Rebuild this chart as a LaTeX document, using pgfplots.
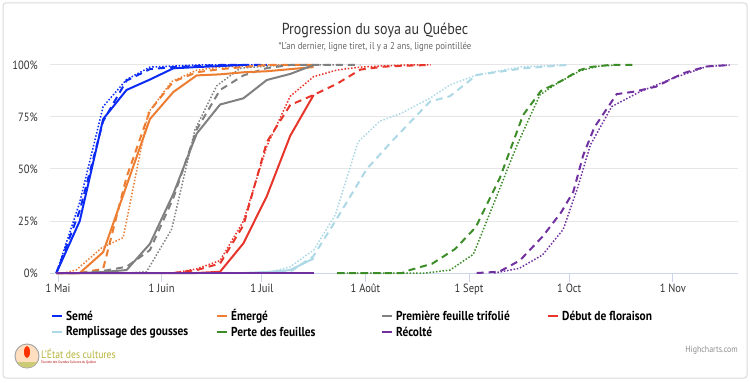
\documentclass[border=0pt]{standalone}
\usepackage{fontspec}
\setmainfont{PT Sans}[FakeStretch=0.88]
\usepackage{pgfplots}
\pgfplotsset{compat=1.18}
\definecolor{cSeme}{HTML}{0B2BF5}
\definecolor{cEmer}{HTML}{ED7D31}
\definecolor{cPrem}{HTML}{808080}
\definecolor{cDebut}{HTML}{E8352B}
\definecolor{cRemp}{HTML}{ADD8E6}
\definecolor{cPerte}{HTML}{3C8C28}
\definecolor{cRecol}{HTML}{7030A0}
\definecolor{cAxis}{HTML}{CCD6EB}
\definecolor{cGrid}{HTML}{E6E6E6}
\definecolor{cText}{HTML}{333333}
\definecolor{cSub}{HTML}{666666}
\definecolor{cLogo}{HTML}{B5B33A}
\tikzset{
  sol/.style={line width=2bp},
  das/.style={line width=2bp, dash pattern=on 7bp off 5bp},
  dot/.style={line width=1.5bp, dash pattern=on 1.5bp off 1.8bp},
}
\begin{document}
\begin{tikzpicture}[x=1bp,y=1bp]
\path[use as bounding box] (0,0) rectangle (750,382);
\draw[draw=black!15, line width=1bp, rounded corners=3bp] (3,4) rectangle (747,379);
\node[font=\fontsize{16}{18}\selectfont, text=cText] at (375,352) {Progression du soya au Québec};
\node[font=\fontsize{10}{12}\selectfont, text=cSub] at (375,335) {*L'an dernier, ligne tiret, il y a 2 ans, ligne pointillée};
\begin{axis}[at={(50bp,109bp)}, anchor=south west, scale only axis,
  width=688bp, height=208bp,
  xmin=-2.4, xmax=203.5, ymin=0, ymax=100,
  axis line style={draw=none},
  clip=false,
  ymajorgrids, grid style={color=cGrid, line width=1bp},
  ytick={0,25,50,75,100}, yticklabels={0\%,25\%,50\%,75\%,100\%},
  xtick={0,31,61,92,123,153,184},
  xticklabels={1 Mai,1 Juin,1 Juil,1 Août,1 Sept,1 Oct,1 Nov},
  xtick pos=lower, ytick pos=left,
  tick align=outside, major tick length=9bp,
  xtick style={color=cAxis, line width=1bp},
  ytick style={draw=none},
  ticklabel style={font=\fontsize{12}{14}\selectfont, text=cText},
  xticklabel style={yshift=2bp},
  yticklabel style={inner sep=0pt, xshift=-3bp},
]
\draw[cAxis, line width=1bp] (rel axis cs:0,0) -- (rel axis cs:1,0);
% ---------- dotted (2 years ago)
\addplot[cSeme, dot] coordinates {(-0.5,0)(6.5,34)(13.5,80)(20.5,93)(27.5,99)(34.5,99.5)(41.5,100)(48.5,100)(55.5,100)(62.5,100)};
\addplot[cEmer, dot] coordinates {(-0.5,0)(2,0)(5.5,1.5)(13,12)(19.5,17)(27,77)(34,92)(41.5,97.5)(48.5,99)(55.5,99.5)(62.5,100)(69.5,100)(76.5,100)};
\addplot[cPrem, dot] coordinates {(-0.5,0)(20.5,0)(26.5,0.6)(34,21)(41,69)(47.5,90)(54.5,98.4)(62.5,99.5)(69.5,100)(76.5,100)(83.5,100)};
\addplot[cDebut, dot] coordinates {(34.5,0)(41.5,2)(48.5,6)(55.5,25)(62.5,61)(69.5,85)(76.5,94.4)(83.5,97.6)(90.5,99)(97.5,99.6)(104.5,100)(111.5,100)};
\addplot[cRemp, dot] coordinates {(62.5,0)(69.5,3)(76.5,11)(83,28)(89.8,63)(96.3,73)(102.3,76.5)(111.3,84)(117.3,90.4)(125.3,95.2)(139,99.2)(152,100)};
\addplot[cPerte, dot] coordinates {(83.5,0)(110,0)(117.3,1.4)(124.3,9)(131.3,37)(137.5,62)(144.2,85.6)(149.2,91)(156.2,97.2)(162,99.5)(167.5,100)};
\addplot[cRecol, dot] coordinates {(130.5,0)(138,2.2)(145,8.7)(151.2,21)(155.5,41)(159.3,61.5)(165.7,80)(174.2,87.2)(184,93.6)(194,99.2)(201,100)};
% ---------- dashed (last year)
\addplot[cSeme, das] coordinates {(-0.5,0)(6.5,30)(13.5,73)(20.5,92.5)(27.5,98)(34.5,99)(41.5,99.5)(48.5,100)(55.5,100)(62.5,100)};
\addplot[cEmer, das] coordinates {(-0.5,0)(6.5,0)(13.5,2)(20.5,46)(27.5,78)(34.5,92)(41.5,96.5)(48.5,98)(55.5,99)(62.5,100)(69.5,100)(76.5,100)};
\addplot[cPrem, das] coordinates {(-0.5,0)(6.5,0)(13.5,1)(20.5,3)(27.5,11)(34.5,36)(41.5,69)(48.5,88)(55.5,95)(62.5,98.5)(69.5,100)(76.5,100)(83.5,100)(90.5,100)};
\addplot[cDebut, das] coordinates {(34.5,0)(41.5,1.4)(48.5,4.6)(55.5,23)(62.5,63)(69.5,80.8)(76.5,85.6)(83.5,91)(90.5,97.8)(97.5,99.2)(104.5,99.7)(111.5,100)};
\addplot[cRemp, das] coordinates {(62.5,0)(69.4,0.6)(76.4,8)(83.4,26)(92.4,50)(100.3,64)(111.3,82.4)(117.3,85)(125.3,95.2)(139.2,98.4)(152.2,100)};
\addplot[cPerte, das] coordinates {(83.5,0)(103,0)(105.3,1.4)(112,4.5)(118.8,11.5)(125,22)(132.3,46)(139.2,76)(144.5,87.5)(150.2,92)(156.2,97.6)(159.2,99)(165,100)(172.5,100)};
\addplot[cRecol, das] coordinates {(125.3,0)(132,0.6)(138.2,6)(145,17.5)(150.5,29)(154.2,39)(157.2,56.7)(160.5,70)(167.2,86)(172.5,87.2)(179,89.6)(187,96)(194,99.3)(201,100)};
% ---------- solid (this year)
\addplot[cSeme, sol] coordinates {(-0.5,0)(6.5,25)(13.5,74)(20.5,88)(27.5,93)(34.5,98.4)(41.5,99)(48.5,99.5)(55.5,100)};
\addplot[cEmer, sol] coordinates {(-0.5,0)(6.5,0)(13.5,10)(20.5,42)(27.5,74)(34.5,87)(41.5,95)(48.5,95.5)(55.5,96.5)(62.5,97)(69.5,98)(76.5,99)};
\addplot[cPrem, sol] coordinates {(-0.5,0)(6.5,0)(13.5,0.5)(20.5,1.4)(27.5,14)(34.5,38)(41.5,67)(48.5,81)(55.5,84)(62.5,92.8)(69.5,95.7)(76.5,100)};
\addplot[cDebut, sol] coordinates {(-0.5,0)(41.5,0)(48.5,0.6)(55.5,14.3)(62.5,37)(69.5,66)(76.5,85.6)};
\addplot[cRemp, sol] coordinates {(-0.5,0)(55.5,0)(62.5,0.5)(69.5,1.4)(76.5,7)};
\addplot[cPerte, sol] coordinates {(-0.5,0)(76.5,0)};
\addplot[cRecol, sol] coordinates {(-0.5,0)(76.5,0)};
\end{axis}
% ---------- legend
\begin{scope}[font=\fontsize{13}{15}\selectfont\bfseries]
\draw[cSeme, line width=2bp] (52,66) -- (62,66); \node[anchor=west, inner sep=0pt] at (66,66) {Semé};
\draw[cEmer, line width=2bp] (217,66) -- (227,66); \node[anchor=west, inner sep=0pt] at (231,66) {Émergé};
\draw[cPrem, line width=2bp] (382,66) -- (392,66); \node[anchor=west, inner sep=0pt] at (396,66) {Première feuille trifolié};
\draw[cDebut, line width=2bp] (548,66) -- (558,66); \node[anchor=west, inner sep=0pt] at (562,66) {Début de floraison};
\draw[cRemp, line width=2bp] (52,50) -- (62,50); \node[anchor=west, inner sep=0pt] at (66,50) {Remplissage des gousses};
\draw[cPerte, line width=2bp] (217,50) -- (227,50); \node[anchor=west, inner sep=0pt] at (231,50) {Perte des feuilles};
\draw[cRecol, line width=2bp] (382,50) -- (392,50); \node[anchor=west, inner sep=0pt] at (396,50) {Récolté};
\end{scope}
% ---------- logo and credits
\fill[orange!25] (27,26) circle (12);
\draw[black!35, line width=1bp] (27,26) circle (12);
\fill[cLogo!70] (17,20) -- (37,20) arc (-30:-150:11.5) -- cycle;
\fill[red!60!orange] (27,30) ellipse (3 and 6);
\node[anchor=west, inner sep=0pt, text=cLogo, font=\fontsize{11}{12}\selectfont] at (41,28) {L'État des cultures};
\node[anchor=west, inner sep=0pt, text=red!70!black, font=\fontsize{3.6}{4}\selectfont] at (41,19.5) {Tournée des Grandes Cultures du Québec};
\node[anchor=east, inner sep=0pt, text=black!45, font=\fontsize{9}{10}\selectfont] at (738,32) {Highcharts.com};
\end{tikzpicture}
\end{document}
